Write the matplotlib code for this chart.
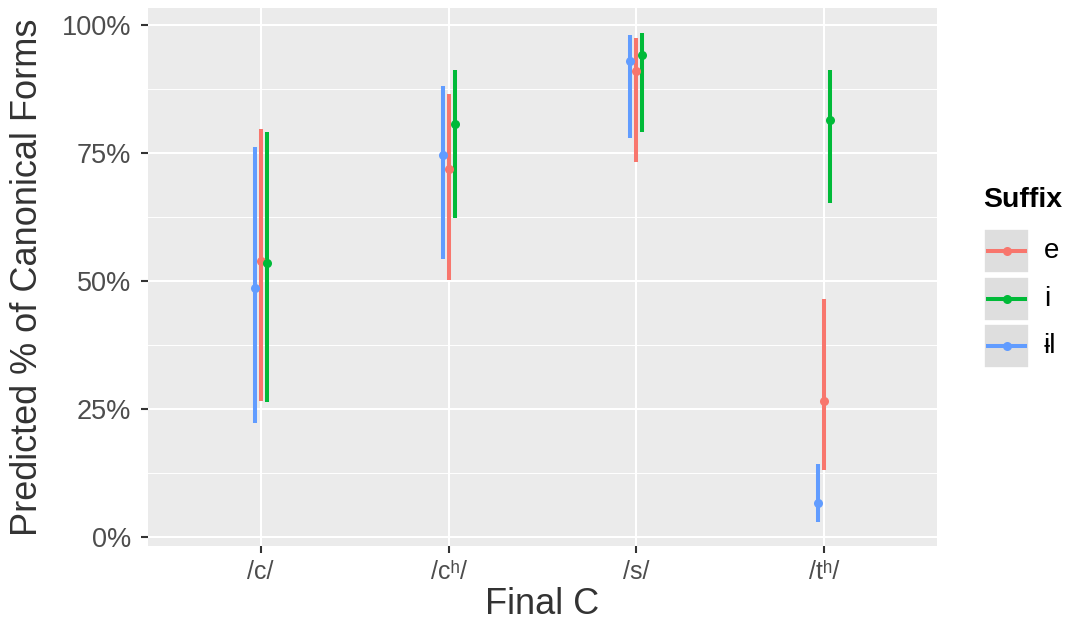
import numpy as np
import matplotlib
matplotlib.use("Agg")
import matplotlib.pyplot as plt
from matplotlib.patches import Rectangle
from matplotlib.ticker import FixedLocator, FuncFormatter

plt.rcParams['font.family'] = ['Liberation Sans', 'DejaVu Sans']

# data (proportions)
final_c = ["/c/", "/c\u02b0/", "/s/", "/t\u02b0/"]
suffixes = ["e", "i", "\u0268l"]
colors = {"e": "#F8766D", "i": "#00BA38", "\u0268l": "#619CFF"}

est = {
    "e":      [0.540, 0.718, 0.911, 0.266],
    "i":      [0.536, 0.807, 0.941, 0.814],
    "\u0268l": [0.486, 0.746, 0.929, 0.067],
}
lower = {
    "e":      [0.266, 0.502, 0.732, 0.132],
    "i":      [0.264, 0.624, 0.791, 0.652],
    "\u0268l": [0.223, 0.544, 0.779, 0.031],
}
upper = {
    "e":      [0.796, 0.865, 0.974, 0.465],
    "i":      [0.792, 0.913, 0.985, 0.912],
    "\u0268l": [0.761, 0.880, 0.980, 0.144],
}
# dodge offsets (blue left, red middle, green right)
offsets = {"e": 0.0, "i": 0.032, "\u0268l": -0.032}

W, H = 1070, 626
fig = plt.figure(figsize=(W / 100, H / 100), dpi=100)
ax = fig.add_axes([148 / W, 1 - 546 / H, (937 - 148) / W, (546 - 8) / H])
ax.set_facecolor("#EBEBEB")

x = np.arange(1, len(final_c) + 1)
for s in suffixes:
    xs = x + offsets[s]
    ax.vlines(xs, lower[s], upper[s], color=colors[s], lw=2.9, zorder=3)
    ax.plot(xs, est[s], "o", color=colors[s], ms=6.5, mec="none", zorder=4)

ax.set_xlim(0.4, 4.6)
ax.set_ylim(-0.0167, 1.033)

ax.yaxis.set_major_locator(FixedLocator([0, 0.25, 0.5, 0.75, 1.0]))
ax.yaxis.set_minor_locator(FixedLocator([0.125, 0.375, 0.625, 0.875]))
ax.yaxis.set_major_formatter(FuncFormatter(lambda v, p: f"{v * 100:.0f}%"))
ax.set_xticks(x)
ax.set_xticklabels(final_c)

ax.grid(which="major", color="white", lw=1.5, zorder=0)
ax.grid(which="minor", axis="y", color="white", lw=0.7, zorder=0)
ax.set_axisbelow(True)
for sp in ax.spines.values():
    sp.set_visible(False)

ax.tick_params(which="major", length=5, width=1.5, color="#333333",
               labelcolor="#4D4D4D")
ax.tick_params(axis="y", which="major", labelsize=19.5, pad=7)
ax.tick_params(axis="x", which="major", labelsize=18, pad=5)
ax.tick_params(which="minor", length=0)

ax.set_xlabel("Final C", fontsize=26, color="#333333", labelpad=2)
ax.set_ylabel("Predicted % of Canonical Forms", fontsize=26, color="#333333", labelpad=12)

# legend drawn in pixel coordinates
lg = fig.add_axes([0, 0, 1, 1])
lg.set_xlim(0, W)
lg.set_ylim(H, 0)
lg.axis("off")
lg.text(983, 200, "Suffix", fontsize=20.5, fontweight="bold", va="center", ha="left")
for k, s in enumerate(suffixes):
    yc = 251 + k * 47.5
    lg.add_patch(Rectangle((984, yc - 22), 45, 44, facecolor="#DEDEDE",
                           edgecolor="white", lw=1.2))
    lg.plot([988, 1025], [yc, yc], color=colors[s], lw=2.9)
    lg.plot([1006.5], [yc], "o", color=colors[s], ms=6.5, mec="none")
    lg.text(1044, yc, s, fontsize=20, va="center", ha="left")

fig.savefig("out.png", dpi=100)
